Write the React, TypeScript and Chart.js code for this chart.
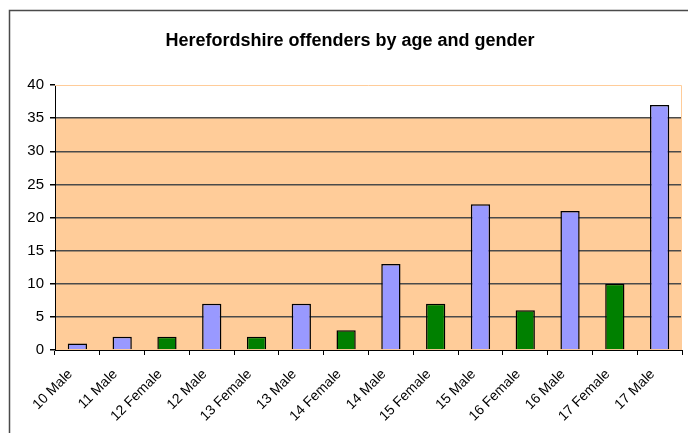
import React, { useEffect, useRef } from "react";
import { Chart, registerables } from "chart.js";

Chart.register(...registerables);

const TITLE = "Herefordshire offenders by age and gender";
const categories = [
  "10 Male", "11 Male", "12 Female", "12 Male", "13 Female", "13 Male", "14 Female",
  "14 Male", "15 Female", "15 Male", "16 Female", "16 Male", "17 Female", "17 Male",
];
const offenders = [1, 2, 2, 7, 2, 7, 3, 13, 7, 22, 6, 21, 10, 37];
const yTicks = [0, 5, 10, 15, 20, 25, 30, 35, 40];
const shadedTop = 35;

const MALE = "#9999FF";
const FEMALE = "#008000";
const PLOT = "#FFCC99";
const FONT = "'Liberation Sans', Arial, sans-serif";

const decor = {
  id: "decor",
  beforeDraw(chart: any) {
    const { ctx, chartArea: a, scales } = chart;
    const y = scales.y;
    ctx.save();
    ctx.fillStyle = "#ffffff";
    ctx.fillRect(0, 0, chart.width, chart.height);
    ctx.fillStyle = PLOT;
    const t = y.getPixelForValue(shadedTop);
    const b = y.getPixelForValue(0);
    ctx.fillRect(a.left, t, a.right - a.left, b - t);
    // outer frame
    ctx.strokeStyle = "#4a4a4a";
    ctx.lineWidth = 1.5;
    ctx.beginPath();
    ctx.moveTo(9.5, chart.height + 2);
    ctx.lineTo(9.5, 10.5);
    ctx.lineTo(chart.width + 2, 10.5);
    ctx.stroke();
    // title
    ctx.fillStyle = "#000";
    ctx.font = `bold 18px ${FONT}`;
    ctx.textAlign = "center";
    ctx.textBaseline = "alphabetic";
    ctx.fillText(TITLE, 350, 46);
    ctx.restore();
  },
  afterDraw(chart: any) {
    const { ctx, chartArea: a } = chart;
    ctx.save();
    ctx.strokeStyle = "#FFCC99";
    ctx.lineWidth = 1;
    ctx.beginPath();
    ctx.moveTo(a.left, a.top + 0.5);
    ctx.lineTo(a.right - 0.5, a.top + 0.5);
    ctx.lineTo(a.right - 0.5, a.bottom);
    ctx.stroke();
    ctx.restore();
  },
};

export default function App() {
  const ref = useRef<HTMLCanvasElement | null>(null);
  useEffect(() => {
    if (!ref.current) return;
    const chart = new Chart(ref.current, {
      type: "bar",
      data: {
        labels: categories,
        datasets: [
          {
            data: offenders,
            backgroundColor: categories.map((c) => (c.includes("Female") ? FEMALE : MALE)),
            borderColor: "#000",
            borderWidth: 1.5,
            barPercentage: 0.43,
            categoryPercentage: 1,
          },
        ],
      },
      options: {
        animation: false,
        responsive: false,
        layout: { padding: { top: 85, right: 6, left: 0, bottom: 0 } },
        plugins: { legend: { display: false }, title: { display: false }, tooltip: { enabled: false } },
        scales: {
          x: {
            offset: true,
            grid: { display: true, drawOnChartArea: false, offset: true, tickColor: "#000", tickLength: 5 },
            border: { display: true, color: "#000", width: 1 },
            ticks: {
              minRotation: 45,
              maxRotation: 45,
              padding: 11,
              labelOffset: -7,
              color: "#000",
              font: { family: FONT, size: 14 },
              autoSkip: false,
            },
            afterFit: (s: any) => { s.height = 83; },
          },
          y: {
            min: 0,
            max: 40,
            afterBuildTicks: (s: any) => { s.ticks = yTicks.map((v) => ({ value: v })); },
            grid: {
              color: (c: any) => (c.tick && (c.tick.value === 0 || c.tick.value === 40) ? "rgba(0,0,0,0)" : "#4a4a4a"),
              lineWidth: 1.5,
              tickColor: "#000",
              tickLength: 5,
            },
            border: { display: true, color: "#000", width: 1 },
            ticks: {
              padding: 6,
              color: "#000",
              font: { family: FONT, size: 15 },
            },
            afterFit: (s: any) => { s.width = 55; },
          },
        },
      },
      plugins: [decor],
    });
    return () => chart.destroy();
  }, []);
  return (
    <div style={{ position: "absolute", left: 0, top: 0 }}>
      <canvas ref={ref} width={688} height={433} style={{ display: "block" }} />
    </div>
  );
}
